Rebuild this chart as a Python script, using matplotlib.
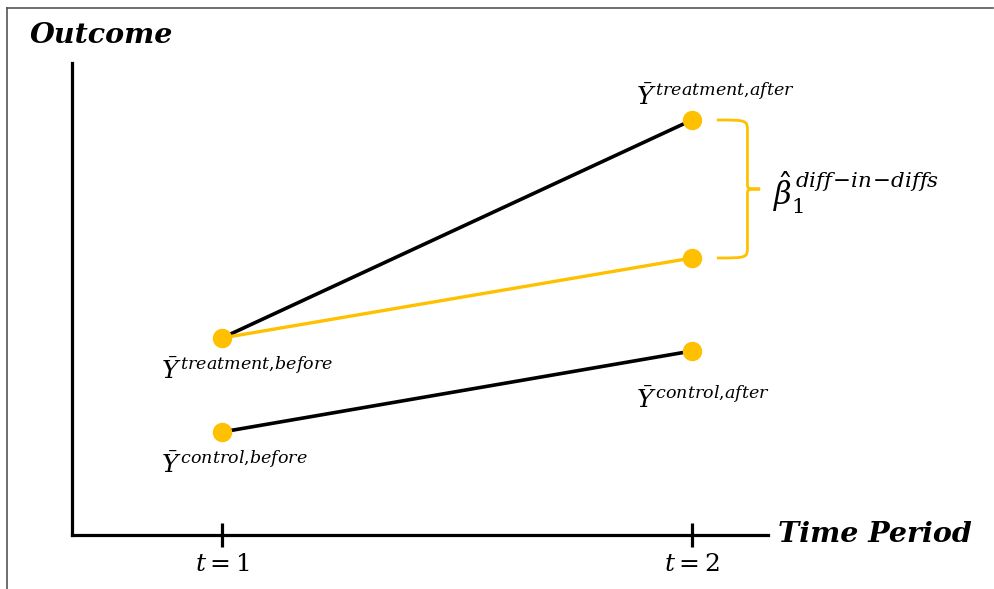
import matplotlib
matplotlib.use("Agg")
import matplotlib.pyplot as plt
from matplotlib.path import Path
from matplotlib.patches import PathPatch
from matplotlib.lines import Line2D

# ---- data ----
periods = [1, 2]
period_labels = [r"$t=1$", r"$t=2$"]
treatment = [1.97, 4.15]
control = [1.03, 1.84]
counterfactual = [1.97, 2.77]
treat_labels = [r"$\bar{Y}^{\,treatment{,}before}$", r"$\bar{Y}^{\,treatment{,}after}$"]
control_labels = [r"$\bar{Y}^{\,control{,}before}$", r"$\bar{Y}^{\,control{,}after}$"]
did_label = r"$\hat{\beta}_1^{\,diff\!-\!in\!-\!diffs}$"

GOLD = "#FFC000"
plt.rcParams["mathtext.fontset"] = "dejavuserif"

fig = plt.figure(figsize=(9.94, 5.89), dpi=100)
ax = fig.add_axes([0, 0, 1, 1])
ax.set_xlim(0.5277, 2.6426)
ax.set_ylim(-0.54, 5.35)
ax.patch.set_alpha(0)

# axes lines via spines
x0, x1 = 0.681, 2.162
y0, y1 = 0.0, 4.72
for s in ["top", "right"]:
    ax.spines[s].set_visible(False)
ax.spines["left"].set_position(("data", x0))
ax.spines["bottom"].set_position(("data", y0))
ax.spines["left"].set_bounds(y0, y1)
ax.spines["bottom"].set_bounds(x0, x1)
for s in ["left", "bottom"]:
    ax.spines[s].set_linewidth(2.3)
ax.set_yticks([])
ax.set_xticks(periods)
ax.set_xticklabels(period_labels, fontsize=18)
ax.tick_params(axis="x", direction="inout", length=17, width=2.3, pad=4)

# lines
ax.plot(periods, treatment, color="black", lw=2.6, zorder=2, solid_capstyle="butt")
ax.plot(periods, control, color="black", lw=2.6, zorder=2, solid_capstyle="butt")
ax.plot(periods, counterfactual, color=GOLD, lw=2.4, zorder=2.5)
ax.plot(periods, treatment, 'o', color=GOLD, ms=13, zorder=3)
ax.plot(periods, control, 'o', color=GOLD, ms=13, zorder=3)
ax.plot(periods[1:], counterfactual[1:], 'o', color=GOLD, ms=13, zorder=3)

# point labels
lab_fs = 18
ax.text(periods[0] - 0.13, treatment[0] - 0.20, treat_labels[0], fontsize=lab_fs, va="top", ha="left")
ax.text(periods[1] - 0.12, treatment[1] + 0.10, treat_labels[1], fontsize=lab_fs, va="bottom", ha="left")
ax.text(periods[0] - 0.13, control[0] - 0.20, control_labels[0], fontsize=lab_fs, va="top", ha="left")
ax.text(periods[1] - 0.12, control[1] - 0.36, control_labels[1], fontsize=lab_fs, va="top", ha="left")

# brace between treatment after and counterfactual
top, bot = treatment[1], counterfactual[1]
mid = (top + bot) / 2
xa = periods[1] + 0.053
xb = periods[1] + 0.118
xc = periods[1] + 0.145
r = 0.12
verts = [
    (xa, top), (xb, top), (xb, top), (xb, top - r),
    (xb, mid + 0.06),
    (xb, mid), (xb, mid), (xc, mid),
    (xb, mid), (xb, mid), (xb, mid - 0.06),
    (xb, bot + r),
    (xb, bot), (xb, bot), (xa, bot),
]
codes = [Path.MOVETO, Path.CURVE4, Path.CURVE4, Path.CURVE4,
         Path.LINETO,
         Path.CURVE4, Path.CURVE4, Path.CURVE4,
         Path.CURVE4, Path.CURVE4, Path.CURVE4,
         Path.LINETO,
         Path.CURVE4, Path.CURVE4, Path.CURVE4]
ax.add_patch(PathPatch(Path(verts, codes), fill=False, edgecolor=GOLD, lw=2.0))
ax.text(periods[1] + 0.172, mid - 0.04, did_label, fontsize=22, va="center", ha="left")

# axis titles
ax.text(0.03, 0.94, "Outcome", transform=fig.transFigure, fontsize=20.5,
        family="DejaVu Serif", weight="bold", style="italic", ha="left", va="center")
ax.text(x1 + 0.02, y0, "Time Period", fontsize=20.5,
        family="DejaVu Serif", weight="bold", style="italic", ha="left", va="center")

# figure border (top and left)
fig.add_artist(Line2D([0.007, 0.999], [0.986, 0.986], transform=fig.transFigure, color="#555555", lw=1.2))
fig.add_artist(Line2D([0.007, 0.007], [0.0, 0.986], transform=fig.transFigure, color="#555555", lw=1.2))

fig.savefig("out.png", dpi=100)
